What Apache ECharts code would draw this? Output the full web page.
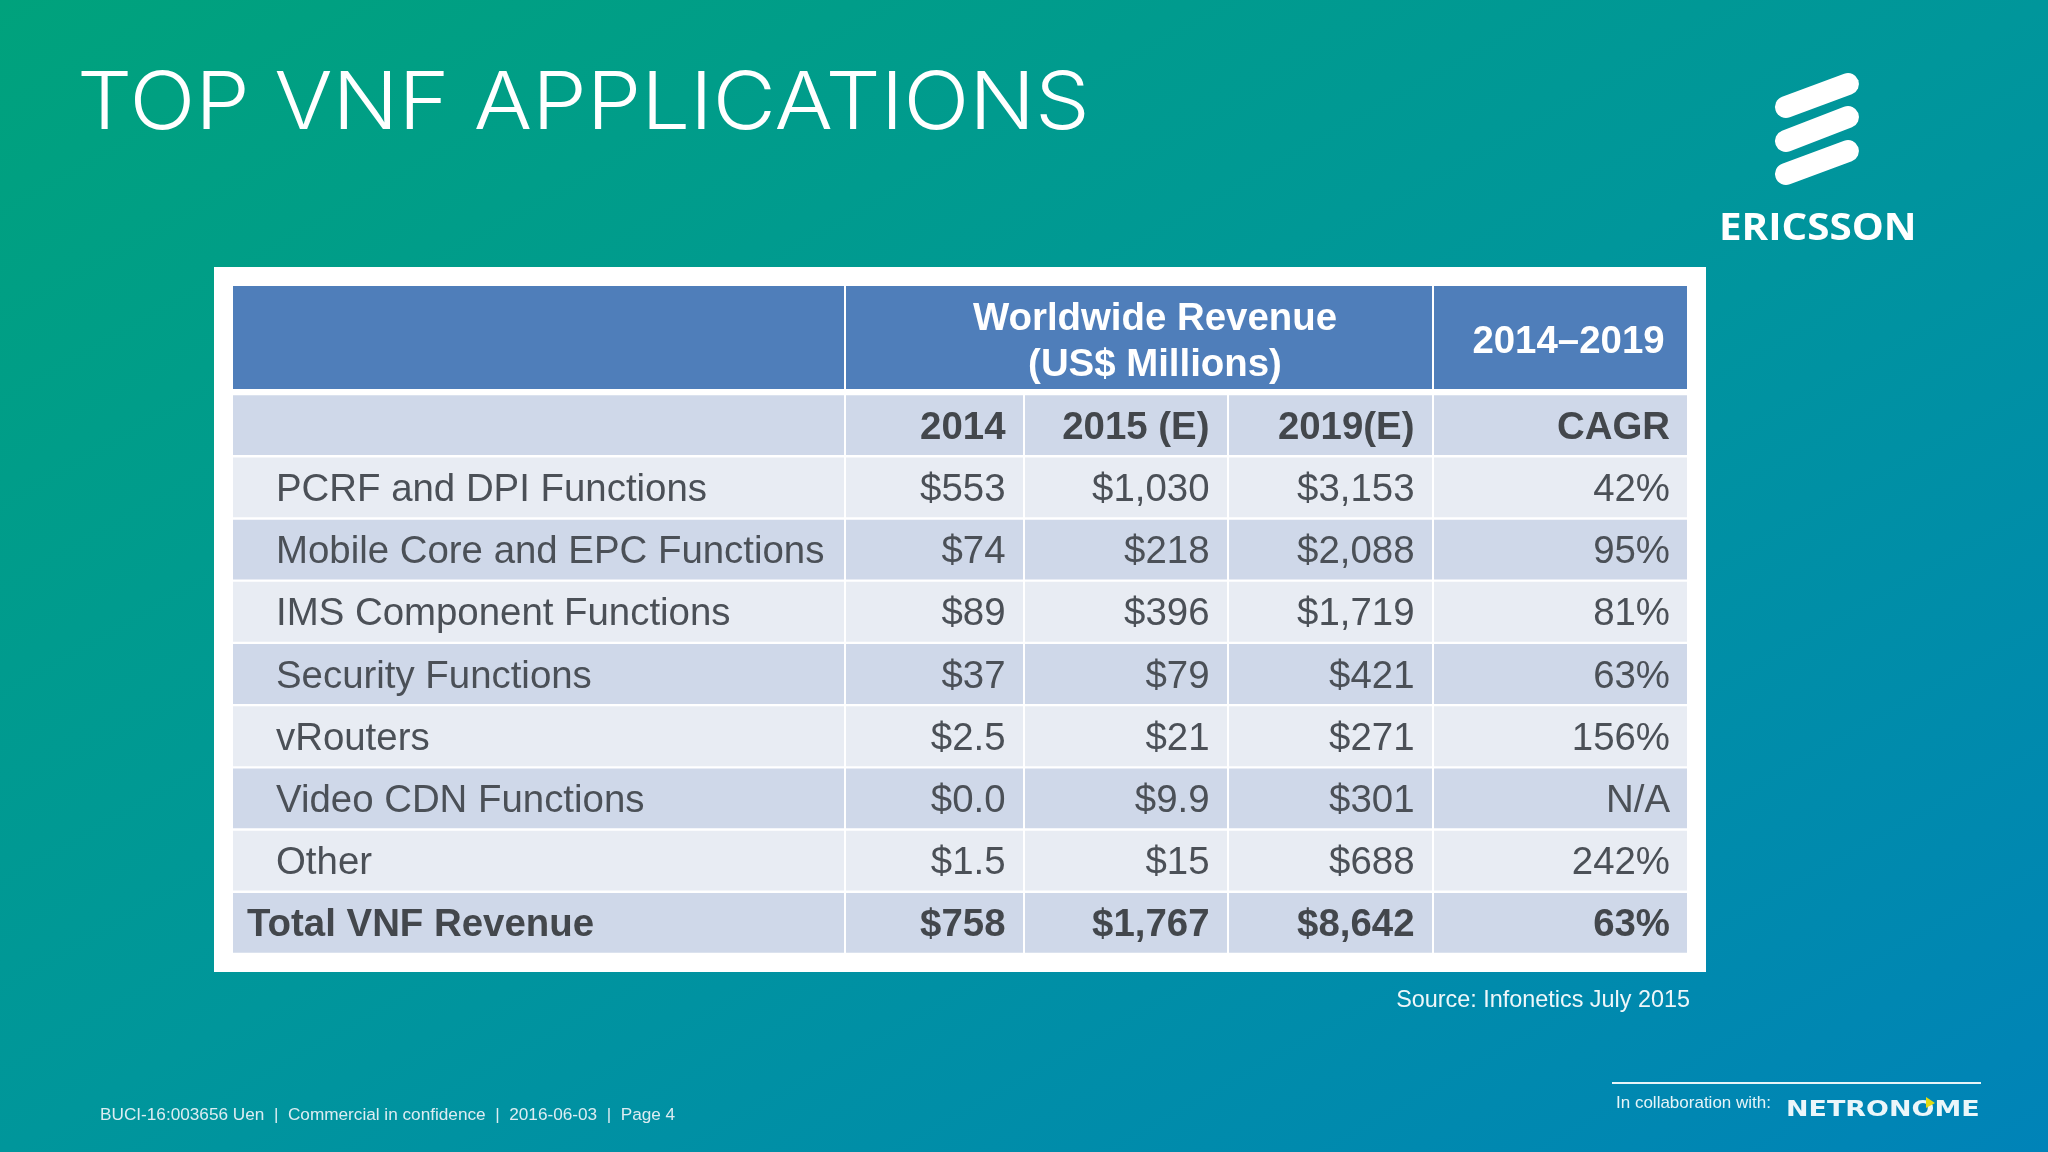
<!DOCTYPE html>
<html>
<head>
<meta charset="utf-8">
<title>Top VNF Applications</title>
<script src="https://cdn.jsdelivr.net/npm/echarts@6/dist/echarts.min.js"></script>
<style>
html,body{margin:0;padding:0;}
#main{width:2048px;height:1152px;}
</style>
</head>
<body>
<div id="main"></div>
<script>
// table data
var rowLabels = ['', 'PCRF and DPI Functions', 'Mobile Core and EPC Functions', 'IMS Component Functions', 'Security Functions', 'vRouters', 'Video CDN Functions', 'Other', 'Total VNF Revenue'];
var rev2014 = [553, 74, 89, 37, 2.5, 0, 1.5, 758];
var rev2015 = [1030, 218, 396, 79, 21, 9.9, 15, 1767];
var rev2019 = [3153, 2088, 1719, 421, 271, 301, 688, 8642];
var cagr = [42, 95, 81, 63, 156, null, 242, 63];
var subHeaders = ['', '2014', '2015 (E)', '2019(E)', 'CAGR'];
var topHeaders = ['', 'Worldwide Revenue\n(US$ Millions)', '2014\u20132019'];

var FONT = '"Liberation Sans", Arial, sans-serif';
var TXT = '#4b5057';
var colEdges = [232, 845, 1024, 1228, 1433, 1688];
var topEdges = [232, 845, 1433, 1688];
// the two header labels do not sit quite centred in the original
var topNudge = [0, 16, 8];

function money(v){
    if(v < 10) return '$' + v.toFixed(1);
    return '$' + v.toLocaleString('en-US');
}
function pct(v){
    return v === null ? 'N/A' : v + '%';
}

var bodyRows = rowLabels.map(function(d, i){ return String(i); });
var columns = [
    rowLabels,
    [subHeaders[1]].concat(rev2014.map(money)),
    [subHeaders[2]].concat(rev2015.map(money)),
    [subHeaders[3]].concat(rev2019.map(money)),
    [subHeaders[4]].concat(cagr.map(pct))
];

function rowFill(r){
    return (r % 2 === 1) ? '#e8ecf3' : '#cfd8e9';
}

var grids = [], xAxes = [], yAxes = [], series = [];

function addGrid(left, right, top, height, cats){
    var idx = grids.length;
    grids.push({left: left, width: right - left, top: top, height: height});
    xAxes.push({type: 'category', gridIndex: idx, data: ['c'], show: false, boundaryGap: true});
    yAxes.push({type: 'category', gridIndex: idx, data: cats, show: false, inverse: true, boundaryGap: true});
    return idx;
}

// blue header band
topHeaders.forEach(function(h, c){
    var idx = addGrid(topEdges[c], topEdges[c + 1], 286, 103, ['h']);
    series.push({
        type: 'custom',
        xAxisIndex: idx,
        yAxisIndex: idx,
        data: [[0, 0]],
        encode: {x: 0, y: 1},
        silent: true,
        renderItem: function(params, api){
            var p = api.coord([0, 0]);
            var s = api.size([1, 1]);
            return {
                type: 'group',
                children: [
                    {type: 'rect', shape: {x: p[0] - s[0] / 2 + 1, y: p[1] - s[1] / 2, width: s[0] - 2, height: s[1]}, style: {fill: '#4f7eba'}},
                    {type: 'text', style: {text: h, x: p[0] + topNudge[c], y: p[1] + 5, align: 'center', verticalAlign: 'middle', fontFamily: FONT, fontWeight: 'bold', fontSize: 38.4, lineHeight: 46, fill: '#fff'}}
                ]
            };
        }
    });
});

// body columns, one grid each so the widths can differ
columns.forEach(function(col, c){
    var idx = addGrid(colEdges[c], colEdges[c + 1], 394, 560, bodyRows);
    series.push({
        type: 'custom',
        xAxisIndex: idx,
        yAxisIndex: idx,
        data: col.map(function(d, i){ return [0, i]; }),
        encode: {x: 0, y: 1},
        silent: true,
        renderItem: function(params, api){
            var r = params.dataIndex;
            var p = api.coord([0, r]);
            var s = api.size([1, 1]);
            var x0 = p[0] - s[0] / 2;
            var bold = r === 0 || r === col.length - 1;
            var tx, align = 'right';
            if(c === 0){
                align = 'left';
                tx = x0 + (r === col.length - 1 ? 15 : 44);
            }else{
                tx = x0 + s[0] - (c === 4 ? 18 : 18.5);
            }
            return {
                type: 'group',
                children: [
                    {type: 'rect', shape: {x: x0 + 1, y: p[1] - s[1] / 2 + 1.2, width: s[0] - 2, height: s[1] - 2.4}, style: {fill: rowFill(r)}},
                    {type: 'text', style: {text: col[r], x: tx, y: p[1] + 3, align: align, verticalAlign: 'middle', fontFamily: FONT, fontWeight: bold ? 'bold' : 'normal', fontSize: 38.4, fill: bold ? '#43474c' : TXT}}
                ]
            };
        }
    });
});

var option = {
    animation: false,
    backgroundColor: new echarts.graphic.LinearGradient(0, 0, 984, 1750, [
        {offset: 0, color: '#00a27c'},
        {offset: 0.5, color: '#00969b'},
        {offset: 1, color: '#0083b8'}
    ], true),
    grid: grids,
    xAxis: xAxes,
    yAxis: yAxes,
    series: series,
    graphic: [
        // title, stretched a bit since the slide font is wider than Inter
        {type: 'text', x: 77, y: 105, scaleX: 1.084, style: {text: 'TOP VNF APPLICATIONS', verticalAlign: 'middle', fontFamily: 'Inter', fontWeight: 300, fontSize: 80, fill: '#fff'}},
        // white panel behind the table
        {type: 'rect', z: -1, shape: {x: 214, y: 267, width: 1492, height: 705}, style: {fill: '#fff'}},
        {type: 'text', style: {text: 'Source: Infonetics July 2015', x: 1690, y: 1001, align: 'right', verticalAlign: 'middle', font: '23.4px ' + FONT, fill: '#eef7fa'}},
        {type: 'text', style: {text: 'BUCI-16:003656 Uen  |  Commercial in confidence  |  2016-06-03  |  Page 4', x: 100, y: 1115, verticalAlign: 'middle', font: '17.2px ' + FONT, fill: '#dcecf2'}},
        // ericsson logo
        {type: 'line', shape: {x1: 1786, y1: 107, x2: 1848, y2: 84}, style: {stroke: '#fff', lineWidth: 22, lineCap: 'round'}},
        {type: 'line', shape: {x1: 1786, y1: 141, x2: 1848, y2: 117}, style: {stroke: '#fff', lineWidth: 22, lineCap: 'round'}},
        {type: 'line', shape: {x1: 1786, y1: 174, x2: 1848, y2: 151}, style: {stroke: '#fff', lineWidth: 22, lineCap: 'round'}},
        {type: 'text', x: 1719, y: 229, scaleX: 1.09, style: {text: 'ERICSSON', verticalAlign: 'middle', font: 'bold 37px "Open Sans"', fill: '#fff'}},
        // collaboration block
        {type: 'line', shape: {x1: 1612, y1: 1083, x2: 1981, y2: 1083}, style: {stroke: '#e6f4f8', lineWidth: 2}},
        {type: 'text', style: {text: 'In collaboration with:', x: 1616, y: 1103, verticalAlign: 'middle', font: '17px ' + FONT, fill: '#e6f4f8'}},
        {type: 'text', x: 1786, y: 1110, scaleX: 1.225, style: {text: 'NETRONOME', verticalAlign: 'middle', font: 'bold 22px "DejaVu Sans"', fill: '#eaf6fa'}},
        {type: 'polygon', shape: {points: [[1926, 1097], [1935, 1103], [1926, 1108]]}, style: {fill: '#e3dc12'}}
    ]
};

var myChart = echarts.init(document.getElementById('main'));
myChart.setOption(option);
</script>
</body>
</html>
